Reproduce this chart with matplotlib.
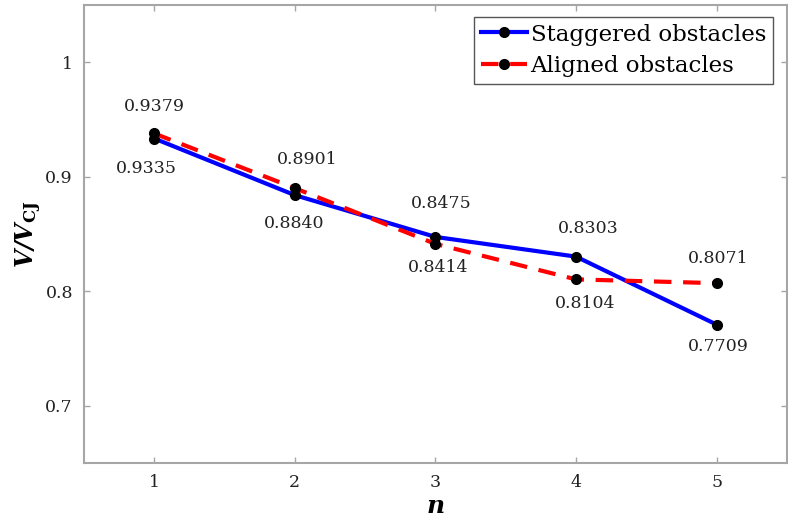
import matplotlib
matplotlib.use("Agg")
import matplotlib.pyplot as plt

# Number of obstacle rows and normalised detonation velocity
n = [1, 2, 3, 4, 5]
staggered = [0.9335, 0.8840, 0.8475, 0.8303, 0.7709]
aligned = [0.9379, 0.8901, 0.8414, 0.8104, 0.8071]

# label offsets (pixels) for each value label
stag_offsets = [(-8, -30), (-1, -28), (6, 33), (12, 28), (2, -22)]
align_offsets = [(0, 27), (12, 29), (3, -24), (9, -24), (2, 25)]

plt.rcParams["font.family"] = ["DejaVu Serif"]
plt.rcParams["mathtext.fontset"] = "dejavuserif"

fig = plt.figure(figsize=(7.88, 5.19), dpi=100)
ax = fig.add_axes([0.1066, 0.108, 0.892, 0.882])

ax.plot(n, staggered, color="#0000ff", lw=3.0, marker="o", ms=7,
        mfc="black", mec="black", label="Staggered obstacles", zorder=3)
ax.plot(n, aligned, color="#ff0000", lw=3.0, dashes=(4.2, 2.8), marker="o",
        ms=7, mfc="black", mec="black", label="Aligned obstacles", zorder=4)

for x, v, off in zip(n, staggered, stag_offsets):
    ax.annotate(f"{v:.4f}", (x, v), xytext=off, textcoords="offset pixels",
                ha="center", va="center", fontsize=12.5, color="#222222")
for x, v, off in zip(n, aligned, align_offsets):
    ax.annotate(f"{v:.4f}", (x, v), xytext=off, textcoords="offset pixels",
                ha="center", va="center", fontsize=12.5, color="#222222")

ax.set_xlim(0.5, 5.5)
ax.set_ylim(0.65, 1.05)
ax.set_xticks(n)
ax.set_yticks([0.7, 0.8, 0.9, 1.0])
ax.set_yticklabels(["0.7", "0.8", "0.9", "1"])

for s in ax.spines.values():
    s.set_color("#a6a6a6")
    s.set_linewidth(1.5)
ax.tick_params(direction="in", length=4, width=1, color="#a6a6a6",
               labelsize=12.5, labelcolor="#222222", top=True, right=True, pad=8)

ax.set_xlabel(r"$\mathbfit{n}$", fontsize=18, labelpad=3)
ax.set_ylabel(r"$\mathbfit{V/V}_{\mathbf{CJ}}$", fontsize=17, labelpad=1)

leg = ax.legend(loc="upper right", bbox_to_anchor=(0.98, 0.975), fontsize=16.5,
                handlelength=2.0, handletextpad=0.15, borderpad=0.3,
                labelspacing=0.4, fancybox=False, framealpha=1,
                borderaxespad=0)
leg.get_frame().set_edgecolor("#555555")
leg.get_frame().set_linewidth(1.0)

fig.savefig("out.png", dpi=100)
